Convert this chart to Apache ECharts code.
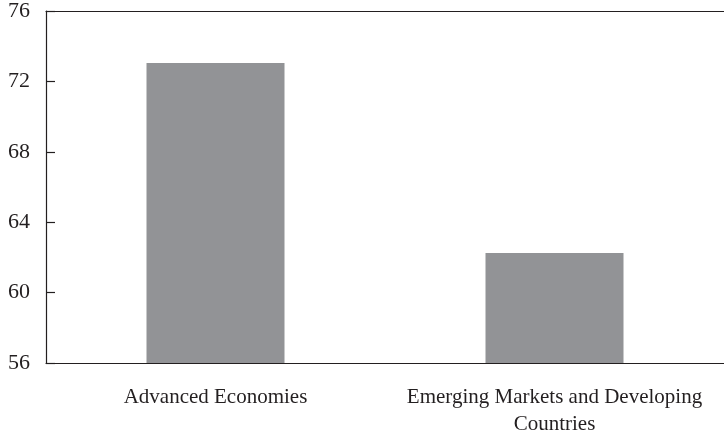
<!DOCTYPE html>
<html><head><meta charset="utf-8">
<script src="https://cdn.jsdelivr.net/npm/echarts@6/dist/echarts.min.js"></script>
<style>html,body{margin:0;padding:0;background:#fff}#c{width:724px;height:438px}</style>
</head><body><div id="c"></div>
<script>
const categories = ["Advanced Economies", "Emerging Markets and Developing\nCountries"];
const values = [73.05, 62.25];
const yTicks = [56, 60, 64, 68, 72, 76];

const font = "'Liberation Serif', 'DejaVu Serif', serif";
const ink = "#231f20";
const chart = echarts.init(document.getElementById('c'), null, {renderer: 'canvas'});
chart.setOption({
  animation: false,
  grid: {left: 46, width: 683, top: 11, bottom: 74, containLabel: false},
  xAxis: [{
    type: 'category', data: categories, position: 'bottom',
    axisLine: {show: true, lineStyle: {color: ink, width: 1.2}},
    axisTick: {show: false},
    axisLabel: {color: ink, fontFamily: font, fontSize: 21, margin: 21, lineHeight: 27, interval: 0}
  }, {
    type: 'category', data: categories, position: 'top',
    axisLine: {show: true, onZero: false, lineStyle: {color: ink, width: 1.2}},
    axisTick: {show: false}, axisLabel: {show: false}
  }],
  yAxis: {
    type: 'value', min: yTicks[0], max: yTicks[yTicks.length - 1], interval: 4,
    axisLine: {show: true, lineStyle: {color: ink, width: 1.2}},
    axisTick: {show: true, inside: true, length: 9, lineStyle: {color: ink, width: 1.2}},
    splitLine: {show: false},
    axisLabel: {color: ink, fontFamily: font, fontSize: 22, margin: 16}
  },
  series: [{
    type: 'bar', data: values, barWidth: 138, xAxisIndex: 0,
    itemStyle: {color: '#929396'}
  }]
});
</script></body></html>
